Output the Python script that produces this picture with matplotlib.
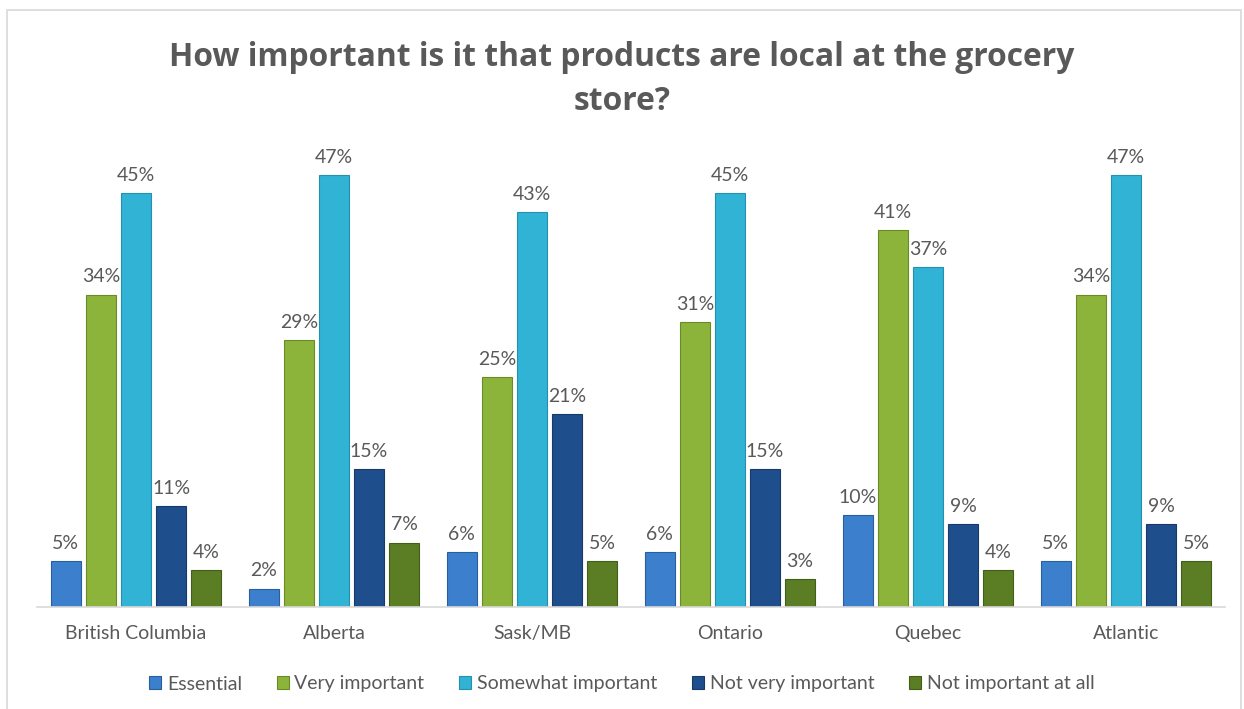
import numpy as np
import matplotlib.pyplot as plt
from matplotlib.patches import Rectangle

regions = ["British Columbia", "Alberta", "Sask/MB", "Ontario", "Quebec", "Atlantic"]
series = ["Essential", "Very important", "Somewhat important",
          "Not very important", "Not important at all"]

essential = [5, 2, 6, 6, 10, 5]
very_important = [34, 29, 25, 31, 41, 34]
somewhat_important = [45, 47, 43, 45, 37, 47]
not_very_important = [11, 15, 21, 15, 9, 9]
not_important_at_all = [4, 7, 5, 3, 4, 5]

values = [essential, very_important, somewhat_important,
          not_very_important, not_important_at_all]
colors = ["#3b7fcd", "#8db43a", "#31b3d6", "#1f4e8c", "#5b7d24"]
edges = ["#2a5f9e", "#6a8a28", "#2590ad", "#163a6a", "#435e19"]

plt.rcParams['font.family'] = ['Lato', 'DejaVu Sans']
text_grey = "#595959"

fig = plt.figure(figsize=(12.44, 7.09), dpi=100)
ax = fig.add_axes([37 / 1244, 102 / 709, 1188 / 1244, 459.5 / 709])

x = np.arange(len(regions))
pitch = 0.177
width = 0.152
for i, (name, vals) in enumerate(zip(series, values)):
    pos = x + (i - 2) * pitch
    ax.bar(pos, vals, width, color=colors[i], edgecolor=edges[i],
           linewidth=0.8, label=name, zorder=2)
    for px, v in zip(pos, vals):
        ax.text(px, v + 1.0, f"{v}%", ha="center", va="bottom",
                fontsize=14, color=text_grey)

ax.set_xlim(-0.5, len(regions) - 0.5)
ax.set_ylim(0, 50)
ax.set_yticks([])
ax.set_xticks(x)
ax.set_xticklabels(regions, fontsize=14, color=text_grey)
ax.tick_params(axis="x", length=0, pad=13)
for s in ["top", "right", "left"]:
    ax.spines[s].set_visible(False)
ax.spines["bottom"].set_color("#d9d9d9")
ax.spines["bottom"].set_linewidth(1.2)

title_font = ['Open Sans', 'DejaVu Sans']
fig.text(0.5, 1 - 58 / 709, "How important is it that products are local at the grocery",
         ha="center", va="center", fontsize=22.9, fontweight="bold", color=text_grey,
         family=title_font)
fig.text(0.5, 1 - 101 / 709, "store?",
         ha="center", va="center", fontsize=22.9, fontweight="bold", color=text_grey,
         family=title_font)

leg = fig.legend(loc="center", bbox_to_anchor=(0.5, 1 - 684 / 709), ncol=5,
                 frameon=False, fontsize=14, handlelength=0.6, handleheight=0.6,
                 handletextpad=0.3, columnspacing=1.8)
for t in leg.get_texts():
    t.set_color(text_grey)

fig.patches.append(Rectangle((7 / 1244, -0.01), 1234 / 1244, 1 - 10 / 709 + 0.01,
                             transform=fig.transFigure, fill=False,
                             edgecolor="#d9d9d9", linewidth=1.2))

fig.savefig("out.png", dpi=100)
